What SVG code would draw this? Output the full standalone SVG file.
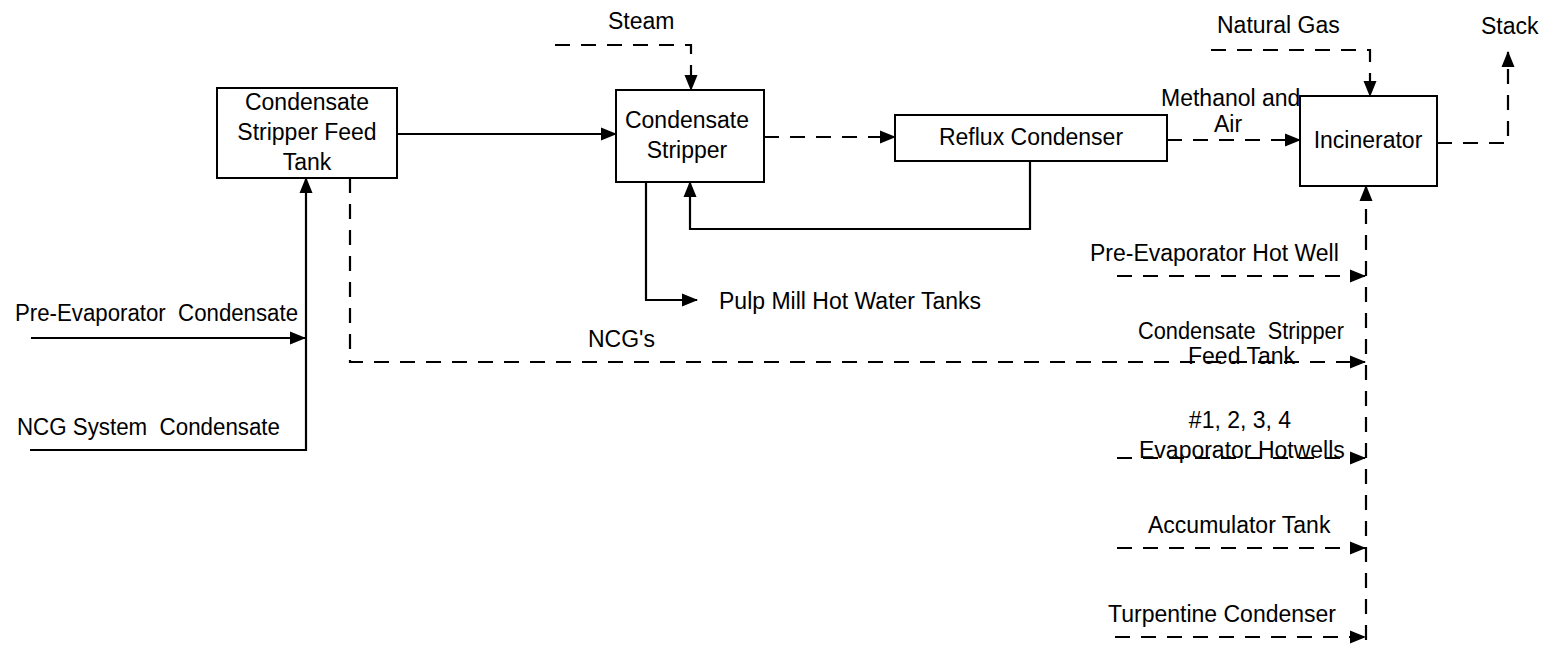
<svg xmlns="http://www.w3.org/2000/svg" width="1544" height="647" viewBox="0 0 1544 647">
<style>
text{font-family:"Liberation Sans",Arial,sans-serif;font-size:23px;fill:#000;white-space:pre}
.box{fill:#fff;stroke:#000;stroke-width:2}
.s{fill:none;stroke:#000;stroke-width:2.2}
.d{fill:none;stroke:#000;stroke-width:2.2;stroke-dasharray:15 11}
.m{marker-end:url(#ah)}
</style>
<defs>
<marker id="ah" markerUnits="userSpaceOnUse" markerWidth="16" markerHeight="14" refX="15" refY="6.5" orient="auto" viewBox="0 0 16 13">
<path d="M0,0 L16,6.5 L0,13 z" fill="#000" stroke="none"/>
</marker>
</defs>
<rect width="1544" height="647" fill="#fff"/>
<g id="connectors">
<path class="s m" d="M397,134 H616"/>
<path class="d m" d="M555,45 H691 V90"/>
<path class="d m" d="M764,137 H895"/>
<path class="s m" d="M1030,161 V229 H690 V182"/>
<path class="s m" d="M646,182 V300 H697"/>
<path class="d m" d="M1211,50 H1370 V96"/>
<path class="d m" d="M1167,140 H1300"/>
<path class="d m" d="M1437,143 H1508 V52"/>
<path class="d m" d="M1366,640 V186"/>
<path class="d m" d="M1117,276 H1365"/>
<path class="d m" d="M350,178 V362 H1365"/>
<path class="d m" d="M1117,458 H1365"/>
<path class="d m" d="M1117,548 H1365"/>
<path class="d m" d="M1115,637 H1365"/>
<path class="s m" d="M31,338 H305"/>
<path class="s m" d="M30,450 H306 V178"/>
</g>
<g id="feed-tank">
<rect class="box" x="217" y="88" width="180" height="90"/>
<text x="307" y="110" text-anchor="middle">Condensate</text>
<text x="307" y="140" text-anchor="middle">Stripper Feed</text>
<text x="307" y="170" text-anchor="middle">Tank</text>
</g>
<g id="stripper">
<rect class="box" x="616" y="90" width="148" height="92"/>
<text x="687" y="128" text-anchor="middle">Condensate</text>
<text x="687" y="158" text-anchor="middle">Stripper</text>
</g>
<g id="reflux">
<rect class="box" x="895" y="115" width="272" height="46"/>
<text x="1031" y="145" text-anchor="middle">Reflux Condenser</text>
</g>
<g id="incinerator">
<rect class="box" x="1300" y="96" width="137" height="90"/>
<text x="1368" y="148" text-anchor="middle">Incinerator</text>
</g>
<g id="labels">
<text x="608" y="29">Steam</text>
<text x="1217" y="33">Natural Gas</text>
<text x="1481" y="34">Stack</text>
<text x="1161" y="106">Methanol and</text>
<text x="1228" y="132" text-anchor="middle">Air</text>
<text x="719" y="309">Pulp Mill Hot Water Tanks</text>
<text x="588" y="347">NCG's</text>
<text x="15" y="321" textLength="283" lengthAdjust="spacingAndGlyphs">Pre-Evaporator  Condensate</text>
<text x="17" y="435" textLength="263" lengthAdjust="spacingAndGlyphs">NCG System  Condensate</text>
<text x="1090" y="261">Pre-Evaporator Hot Well</text>
<text x="1138" y="339" textLength="206" lengthAdjust="spacingAndGlyphs">Condensate  Stripper</text>
<text x="1188" y="364">Feed Tank</text>
<text x="1240" y="428" text-anchor="middle">#1, 2, 3, 4</text>
<text x="1139" y="458">Evaporator Hotwells</text>
<text x="1148" y="533">Accumulator Tank</text>
<text x="1108" y="622">Turpentine Condenser</text>
</g>
</svg>
